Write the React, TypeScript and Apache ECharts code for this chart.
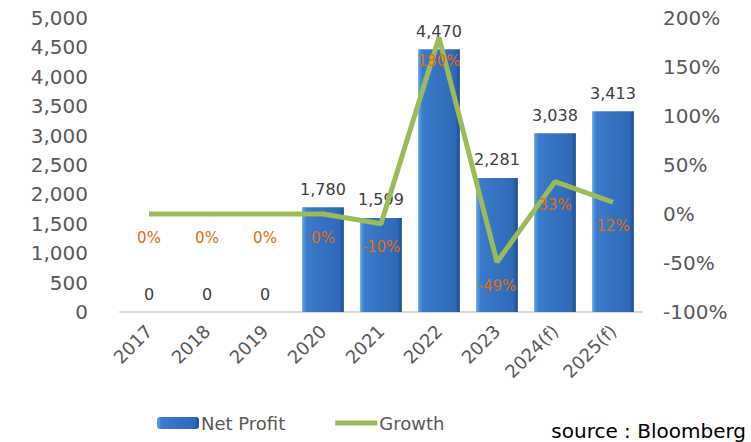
import React, { useEffect, useRef } from "react";
import * as echarts from "echarts";

const categories = ["2017", "2018", "2019", "2020", "2021", "2022", "2023", "2024(f)", "2025(f)"];
const netProfit = [0, 0, 0, 1780, 1599, 4470, 2281, 3038, 3413];
const growth = [0, 0, 0, 0, -10, 180, -49, 33, 12];
const leftTicks = { min: 0, max: 5000, interval: 500 };
const rightTicks = { min: -100, max: 200, interval: 50 };

export default function App() {
  const ref = useRef<HTMLDivElement>(null);
  useEffect(() => {
    if (!ref.current) return;
    const chart = echarts.init(ref.current, undefined, { renderer: "svg" });
    const font = "DejaVu Sans, Verdana, sans-serif";
    chart.setOption({
      animation: false,
      textStyle: { fontFamily: font },
      grid: { left: 120, right: 109, top: 18, bottom: 130 },
      legend: {
        bottom: 5,
        left: 152,
        itemWidth: 42,
        itemHeight: 12,
        itemGap: 50,
        textStyle: { color: "#595959", fontSize: 18, fontFamily: font, padding: [0, 0, 0, -3] },
        data: [
          { name: "Net Profit" },
          { name: "Growth", icon: "path://M0,0 L42,0 L42,5 L0,5 Z", itemStyle: { color: "#9BBB59" } },
        ],
      },
      graphic: [
        {
          type: "text",
          right: 5,
          bottom: 1,
          style: { text: "source : Bloomberg", fill: "#000", fontSize: 20, fontFamily: font },
        },
      ],
      xAxis: {
        type: "category",
        data: categories,
        axisTick: { show: false },
        axisLine: { lineStyle: { color: "#D9D9D9", width: 2 } },
        axisLabel: { rotate: 45, color: "#595959", fontSize: 18, fontFamily: font, margin: 16 },
      },
      yAxis: [
        {
          type: "value",
          ...leftTicks,
          splitLine: { show: false },
          axisLine: { show: false },
          axisTick: { show: false },
          axisLabel: {
            color: "#595959",
            fontSize: 20,
            fontFamily: font,
            margin: 32,
            formatter: (v: number) => v.toLocaleString("en-US"),
          },
        },
        {
          type: "value",
          ...rightTicks,
          splitLine: { show: false },
          axisLine: { show: false },
          axisTick: { show: false },
          axisLabel: {
            color: "#595959",
            fontSize: 20,
            fontFamily: font,
            margin: 21,
            formatter: (v: number) => v + "%",
          },
        },
      ],
      series: [
        {
          name: "Net Profit",
          type: "bar",
          data: netProfit,
          barWidth: "72%",
          itemStyle: {
            color: new echarts.graphic.LinearGradient(0, 0, 1, 0, [
              { offset: 0, color: "#6AA6E8" },
              { offset: 0.1, color: "#3B7BCB" },
              { offset: 0.88, color: "#2E6AB8" },
              { offset: 1, color: "#1F4E8F" },
            ]),
            borderWidth: 0,
          },
          label: {
            show: true,
            position: "top",
            distance: 10,
            color: "#404040",
            fontSize: 16,
            fontFamily: font,
            formatter: (p: any) => Number(p.value).toLocaleString("en-US"),
          },
        },
        {
          name: "Growth",
          type: "line",
          yAxisIndex: 1,
          data: growth,
          symbol: "circle",
          showSymbol: true,
          symbolSize: 0.01,
          lineStyle: { color: "#9BBB59", width: 5 },
          itemStyle: { color: "#9BBB59" },
          z: 5,
          label: {
            show: true,
            position: "bottom",
            distance: 16,
            color: "#E36C09",
            fontSize: 15,
            fontFamily: font,
            formatter: (p: any) => p.value + "%",
          },
        },
      ],
    });
    return () => chart.dispose();
  }, []);
  return (
    <div
      ref={ref}
      style={{ position: "fixed", left: 0, top: 0, width: 751, height: 442, background: "#fff" }}
    />
  );
}
